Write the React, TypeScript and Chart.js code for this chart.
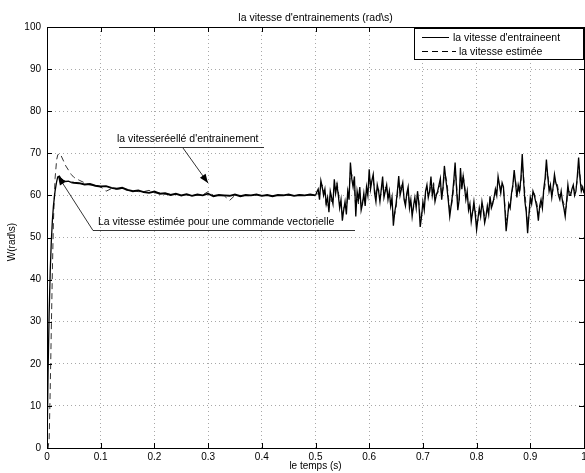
import React, { useEffect, useRef } from "react";
import { Chart, registerables } from "chart.js";

Chart.register(...registerables);

const chartTitle = "la vitesse d'entrainements (rad\\s)";
const xTitle = "le temps (s)";
const yTitle = "W(rad\\s)";
const seriesNames = ["la vitesse d'entraineent", "la vitesse estimée"];
const noteReal = "la vitesseréellé d'entrainement";
const noteEst = "La vitesse estimée pour une commande vectorielle";

const xTicks = [0, 0.1, 0.2, 0.3, 0.4, 0.5, 0.6, 0.7, 0.8, 0.9, 1];
const yTicks = [0, 10, 20, 30, 40, 50, 60, 70, 80, 90, 100];

const timeS = [
  0, 0.002, 0.004, 0.006, 0.008, 0.01, 0.012, 0.015, 0.018, 0.02, 0.023, 0.026, 0.03, 0.035, 0.04, 0.045, 0.05,
  0.06, 0.07, 0.08, 0.09, 0.1, 0.11, 0.12, 0.13, 0.14, 0.15, 0.16, 0.17, 0.18, 0.19, 0.2, 0.21, 0.22, 0.23, 0.24,
  0.25, 0.26, 0.27, 0.28, 0.29, 0.3, 0.31, 0.32, 0.33, 0.34, 0.35, 0.36, 0.37, 0.38, 0.39, 0.4, 0.41, 0.42, 0.43,
  0.44, 0.45, 0.46, 0.47, 0.48, 0.49, 0.5,
  0.5025, 0.505, 0.5075, 0.51, 0.5125, 0.515, 0.5175, 0.52, 0.5225, 0.525, 0.5275, 0.53, 0.5325, 0.535, 0.5375, 0.54,
  0.5425, 0.545, 0.5475, 0.55, 0.5525, 0.555, 0.5575, 0.56, 0.5625, 0.565, 0.5675, 0.57, 0.5725, 0.575, 0.5775, 0.58,
  0.5825, 0.585, 0.5875, 0.59, 0.5925, 0.595, 0.5975, 0.6, 0.6025, 0.605, 0.6075, 0.61, 0.6125, 0.615, 0.6175, 0.62,
  0.6225, 0.625, 0.6275, 0.63, 0.6325, 0.635, 0.6375, 0.64, 0.6425, 0.645, 0.6475, 0.65, 0.6525, 0.655, 0.6575, 0.66,
  0.6625, 0.665, 0.6675, 0.67, 0.6725, 0.675, 0.6775, 0.68, 0.6825, 0.685, 0.6875, 0.69, 0.6925, 0.695, 0.6975, 0.7,
  0.7025, 0.705, 0.7075, 0.71, 0.7125, 0.715, 0.7175, 0.72, 0.7225, 0.725, 0.7275, 0.73, 0.7325, 0.735, 0.7375, 0.74,
  0.7425, 0.745, 0.7475, 0.75, 0.7525, 0.755, 0.7575, 0.76, 0.7625, 0.765, 0.7675, 0.77, 0.7725, 0.775, 0.7775, 0.78,
  0.7825, 0.785, 0.7875, 0.79, 0.7925, 0.795, 0.7975, 0.8, 0.8025, 0.805, 0.8075, 0.81, 0.8125, 0.815, 0.8175, 0.82,
  0.8225, 0.825, 0.8275, 0.83, 0.8325, 0.835, 0.8375, 0.84, 0.8425, 0.845, 0.8475, 0.85, 0.8525, 0.855, 0.8575, 0.86,
  0.8625, 0.865, 0.8675, 0.87, 0.8725, 0.875, 0.8775, 0.88, 0.8825, 0.885, 0.8875, 0.89, 0.8925, 0.895, 0.8975, 0.9,
  0.9025, 0.905, 0.9075, 0.91, 0.9125, 0.915, 0.9175, 0.92, 0.9225, 0.925, 0.9275, 0.93, 0.9325, 0.935, 0.9375, 0.94,
  0.9425, 0.945, 0.9475, 0.95, 0.9525, 0.955, 0.9575, 0.96, 0.9625, 0.965, 0.9675, 0.97, 0.9725, 0.975, 0.9775, 0.98,
  0.9825, 0.985, 0.9875, 0.99, 0.9925, 0.995, 0.9975, 1.0,
];

const speedReal = [
  0, 18, 32, 42, 49, 54, 57.5, 61, 63.3, 64.4, 64.6, 64, 63.6, 63.3, 63.4, 63.1, 63.0,
  62.9, 62.6, 62.7, 62.3, 62.1, 62.2, 61.8, 61.6, 61.8, 61.3, 61.0, 61.2, 60.8, 60.6, 60.9, 60.4, 60.5, 60.1, 60.4,
  60.0, 60.3, 59.9, 60.2, 60.0, 60.4, 59.8, 60.1, 60.0, 59.9, 60.2, 59.8, 60.1, 60.0, 60.2, 59.9, 60.1, 59.8, 60.1,
  60.0, 60.2, 59.9, 60.1, 60.0, 60.2, 60.0,
  60.8, 61.5, 59.0, 63.5, 62.0, 60.0, 61.5, 58.0, 59.5, 56.0, 61.0, 59.5, 58.0, 63.8, 60.5, 62.5,
  60.0, 57.0, 59.0, 54.0, 56.5, 58.5, 55.5, 61.0, 59.0, 67.8, 64.0, 62.0, 64.5, 55.0, 61.0, 59.0,
  62.0, 56.5, 58.0, 60.5, 57.5, 62.0, 60.0, 66.2, 61.5, 63.5, 65.0, 60.5, 58.5, 62.5, 61.0, 58.5,
  61.5, 64.5, 59.5, 61.0, 62.5, 59.0, 61.0, 57.5, 59.5, 52.8, 56.0, 58.0, 61.0, 64.6, 60.0, 61.5,
  63.0, 59.0, 57.5, 60.5, 62.0, 57.0, 59.0, 55.0, 57.5, 59.5, 57.0, 61.0, 58.0, 52.5, 55.0, 58.5,
  56.5, 61.0, 62.5, 59.5, 61.0, 64.5, 60.0, 62.0, 58.5, 60.0, 61.0, 62.5, 64.0, 59.0, 62.0, 67.0,
  64.0, 61.5, 58.5, 55.0, 57.5, 60.0, 63.5, 67.8, 62.0, 56.5, 59.0, 66.5, 61.5, 64.5, 62.0, 59.0,
  61.0, 56.5, 58.0, 53.8, 56.0, 58.5, 55.5, 51.8, 54.5, 57.0, 55.0, 58.5, 56.5, 53.5, 55.0, 57.5,
  55.5, 59.8, 57.0, 58.0, 59.5, 61.5, 60.0, 64.5, 62.5, 60.5, 63.0, 62.0, 57.0, 51.5, 54.5, 58.0,
  57.0, 60.5, 62.5, 66.0, 63.0, 59.5, 62.5, 61.0, 64.0, 69.8, 63.5, 58.5, 56.0, 51.0, 55.5, 59.5,
  58.0, 61.0, 60.0, 58.5, 57.0, 54.0, 57.5, 59.0, 57.0, 61.5, 64.0, 68.5, 64.5, 61.0, 62.5, 59.5,
  62.0, 65.0, 63.0, 62.0, 60.0, 59.0, 61.0, 58.5, 57.0, 55.0, 58.5, 62.5, 60.0, 60.0, 61.5, 62.5,
  60.0, 61.0, 64.5, 69.0, 64.0, 61.0, 62.0, 60.5,
];

const speedEst = [
  0, 0, 2, 14, 28, 42, 54, 64, 68.5, 69.6, 70, 69.5, 68.4, 67, 66, 65, 64.3,
  63.6, 63.0, 62.5, 62.4, 62.0, 61.0, 61.6, 61.5, 61.6, 61.2, 61.1, 60.9, 60.9, 61.2, 60.6, 60.6, 60.3, 60.3, 60.2,
  60.1, 60.1, 60.0, 60.1, 60.1, 60.9, 60.0, 60.0, 59.9, 58.8, 60.0, 60.0, 59.9, 60.0, 60.1, 60.0, 60.0, 59.9, 60.0,
  60.1, 60.0, 60.0, 60.1, 60.0, 60.1, 60.0,
  60.2, 60.5, 60.0, 62.0, 62.5, 61.0, 60.5, 57.5, 58.0, 57.0, 60.0, 58.5, 59.0, 62.5, 61.5, 63.0,
  61.0, 58.0, 58.0, 55.5, 57.0, 57.5, 57.0, 60.0, 61.0, 65.5, 65.0, 63.5, 62.0, 57.0, 59.5, 58.0,
  60.5, 57.5, 58.5, 59.5, 59.0, 61.5, 61.0, 64.5, 63.0, 64.0, 63.5, 61.5, 60.0, 61.5, 61.5, 59.5,
  60.5, 63.0, 61.0, 62.0, 61.5, 59.5, 60.0, 58.0, 58.0, 54.5, 55.5, 57.0, 60.0, 63.0, 61.5, 62.5,
  62.0, 59.5, 58.5, 60.0, 61.0, 58.0, 58.5, 56.0, 57.0, 58.5, 58.0, 60.5, 58.5, 54.5, 55.5, 57.5,
  57.5, 60.5, 61.5, 60.0, 60.5, 63.0, 61.5, 63.0, 59.5, 60.5, 60.5, 61.5, 63.0, 60.0, 61.5, 65.0,
  64.5, 63.0, 59.5, 56.5, 57.0, 59.0, 62.0, 66.0, 63.0, 58.5, 58.5, 64.5, 63.0, 65.0, 62.5, 60.0,
  60.0, 57.5, 57.5, 55.0, 55.5, 57.5, 56.5, 53.5, 54.0, 56.0, 56.0, 58.0, 57.0, 55.0, 55.0, 56.5,
  56.5, 59.0, 58.0, 58.5, 59.0, 60.5, 61.0, 63.5, 63.0, 61.5, 62.0, 61.5, 58.0, 54.0, 55.0, 57.0,
  58.0, 60.0, 62.0, 64.5, 63.5, 61.0, 61.5, 60.5, 63.0, 67.5, 64.5, 60.5, 57.0, 53.0, 55.0, 58.0,
  58.5, 60.5, 60.5, 59.0, 58.0, 55.5, 56.5, 58.0, 58.0, 60.5, 62.5, 66.5, 65.0, 62.5, 62.0, 60.0,
  61.5, 63.5, 63.5, 63.0, 61.0, 60.0, 60.5, 59.0, 58.0, 56.5, 57.5, 61.0, 61.0, 60.5, 61.0, 62.0,
  61.0, 61.5, 63.5, 67.0, 65.0, 62.5, 61.5, 61.0,
];

const FONT = "'Liberation Sans', Arial, Helvetica, sans-serif";

function drawArrow(ctx: CanvasRenderingContext2D, x1: number, y1: number, x2: number, y2: number) {
  ctx.beginPath();
  ctx.moveTo(x1, y1);
  ctx.lineTo(x2, y2);
  ctx.stroke();
  const a = Math.atan2(y2 - y1, x2 - x1);
  const len = 9;
  const w = 3.5;
  const bx = x2 - len * Math.cos(a);
  const by = y2 - len * Math.sin(a);
  ctx.beginPath();
  ctx.moveTo(x2, y2);
  ctx.lineTo(bx + w * Math.sin(a), by - w * Math.cos(a));
  ctx.lineTo(bx - w * Math.sin(a), by + w * Math.cos(a));
  ctx.closePath();
  ctx.fill();
}

const decorPlugin = {
  id: "decor",
  afterDraw(chart: any) {
    const ctx: CanvasRenderingContext2D = chart.ctx;
    const { left, right, top, bottom } = chart.chartArea;
    const xs = chart.scales.x;
    const ys = chart.scales.y;
    ctx.save();
    ctx.strokeStyle = "#000";
    ctx.lineWidth = 1;
    ctx.setLineDash([]);
    ctx.strokeRect(Math.round(left) + 0.5, Math.round(top) + 0.5, Math.round(right - left), Math.round(bottom - top));
    const tl = 5;
    ctx.beginPath();
    xTicks.forEach((v) => {
      const px = Math.round(xs.getPixelForValue(v)) + 0.5;
      ctx.moveTo(px, bottom);
      ctx.lineTo(px, bottom - tl);
      ctx.moveTo(px, top);
      ctx.lineTo(px, top + tl);
    });
    yTicks.forEach((v) => {
      const py = Math.round(ys.getPixelForValue(v)) + 0.5;
      ctx.moveTo(left, py);
      ctx.lineTo(left + tl, py);
      ctx.moveTo(right, py);
      ctx.lineTo(right - tl, py);
    });
    ctx.stroke();

    ctx.fillStyle = "#000";
    ctx.font = `10.5px ${FONT}`;
    ctx.textAlign = "center";
    ctx.textBaseline = "middle";
    ctx.fillText(chartTitle, (left + right) / 2, 18);
    ctx.font = `10px ${FONT}`;
    ctx.fillText(xTitle, (left + right) / 2, 466);
    ctx.save();
    ctx.translate(12, 242);
    ctx.rotate(-Math.PI / 2);
    ctx.fillText(yTitle, 0, 0);
    ctx.restore();

    const lx = 414, ly = 28, lw = 169, lh = 31;
    ctx.fillStyle = "#fff";
    ctx.fillRect(lx, ly, lw, lh);
    ctx.strokeStyle = "#000";
    ctx.strokeRect(lx + 0.5, ly + 0.5, lw, lh);
    ctx.beginPath();
    ctx.moveTo(422, 37.5);
    ctx.lineTo(449, 37.5);
    ctx.stroke();
    ctx.setLineDash([6, 4]);
    ctx.beginPath();
    ctx.moveTo(422, 51.5);
    ctx.lineTo(456, 51.5);
    ctx.stroke();
    ctx.setLineDash([]);
    ctx.fillStyle = "#000";
    ctx.font = `10.5px ${FONT}`;
    ctx.textAlign = "left";
    ctx.fillText(seriesNames[0], 453, 38);
    ctx.fillText(seriesNames[1], 459, 52);

    ctx.font = `10.5px ${FONT}`;
    ctx.fillText(noteReal, 117, 139);
    ctx.fillText(noteEst, 98, 222);
    ctx.strokeStyle = "#000";
    ctx.lineWidth = 0.8;
    ctx.beginPath();
    ctx.moveTo(119, 147.5);
    ctx.lineTo(264, 147.5);
    ctx.moveTo(93, 230.5);
    ctx.lineTo(355, 230.5);
    ctx.stroke();
    ctx.fillStyle = "#000";
    drawArrow(ctx, 183, 148, 208, 183);
    drawArrow(ctx, 93, 230.5, 58, 176);
    ctx.restore();
  },
};

export default function App() {
  const ref = useRef<HTMLCanvasElement | null>(null);
  useEffect(() => {
    if (!ref.current) return;
    const realPts = timeS.map((t, i) => ({ x: t, y: speedReal[i] }));
    const estPts = timeS.map((t, i) => ({ x: t, y: speedEst[i] }));
    const chart = new Chart(ref.current, {
      type: "line",
      data: {
        datasets: [
          {
            label: seriesNames[0],
            data: realPts,
            borderColor: "#000",
            borderWidth: 1.3,
            pointRadius: 0,
            tension: 0,
            fill: false,
            segment: {
              borderWidth: (c: any) => (c.p0.parsed.x > 0.04 && c.p0.parsed.x < 0.5 ? 1.9 : 1.3),
            },
          },
          {
            label: seriesNames[1],
            data: estPts,
            borderColor: "#333",
            borderWidth: 1,
            borderDash: [6, 4],
            pointRadius: 0,
            tension: 0,
            fill: false,
          },
        ],
      },
      options: {
        animation: false,
        responsive: false,
        devicePixelRatio: 1,
        layout: { padding: { top: 27, right: 16, left: 0, bottom: 0 } },
        plugins: { legend: { display: false }, title: { display: false }, tooltip: { enabled: false } },
        scales: {
          x: {
            type: "linear",
            min: 0,
            max: 1,
            afterBuildTicks: (s: any) => {
              s.ticks = xTicks.map((v) => ({ value: v }));
            },
            afterFit: (s: any) => {
              s.height = 25;
            },
            ticks: {
              autoSkip: false,
              maxRotation: 0,
              padding: 3,
              color: "#000",
              font: { family: FONT, size: 10 },
              callback: (v: any) => String(v),
            },
            grid: { color: "#a8a8a8", lineWidth: 1, drawTicks: false },
            border: { display: false, dash: [1, 3] },
          },
          y: {
            type: "linear",
            min: 0,
            max: 100,
            afterBuildTicks: (s: any) => {
              s.ticks = yTicks.map((v) => ({ value: v }));
            },
            afterFit: (s: any) => {
              s.width = 47;
            },
            ticks: {
              autoSkip: false,
              padding: 6,
              color: "#000",
              font: { family: FONT, size: 10 },
              callback: (v: any) => String(v),
            },
            grid: { color: "#a8a8a8", lineWidth: 1, drawTicks: false },
            border: { display: false, dash: [1, 3] },
          },
        },
      },
      plugins: [decorPlugin],
    });
    return () => chart.destroy();
  }, []);
  return (
    <div
      style={{
        position: "fixed",
        left: 0,
        top: 0,
        width: 585,
        height: 473,
        overflow: "hidden",
        background: "#fff",
      }}
    >
      <canvas ref={ref} width={600} height={473} style={{ display: "block", width: 600, height: 473 }} />
    </div>
  );
}
